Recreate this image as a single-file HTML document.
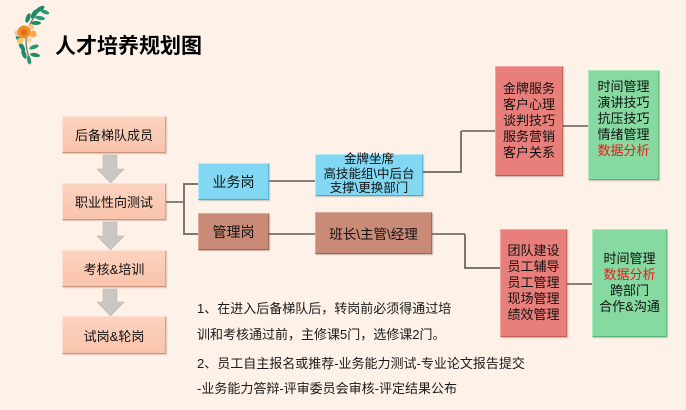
<!DOCTYPE html>
<html><head><meta charset="utf-8">
<style>
html,body{margin:0;padding:0;}
body{width:686px;height:410px;background:#fdf1e8;position:relative;overflow:hidden;font-family:"Liberation Sans","Noto Sans CJK SC",sans-serif;color:#111;}
.b{position:absolute;box-sizing:border-box;display:flex;flex-direction:column;align-items:center;justify-content:center;text-align:center;}
.s{background:linear-gradient(#fcd3c0,#f9c3ab);border:1px solid;border-color:#fde0d2 #d9a38b #c99680 #fde0d2;box-shadow:1px 1px 1px rgba(150,110,90,.35);font-size:13px;}
.bl{background:#82d8f3;border:1px solid;border-color:#b2ebfb #5bb6d4 #4eaac9 #b2ebfb;box-shadow:1px 1px 1px rgba(80,120,140,.35);}
.br{background:#c98b78;border:1px solid;border-color:#dba898 #a46a59 #9a6353 #dba898;box-shadow:1px 1px 1px rgba(100,60,50,.35);}
.rd{background:#e97f7a;border:1px solid;border-color:#f4a5a0 #c86661 #bb5e5a #f4a5a0;box-shadow:1px 1px 1px rgba(120,60,60,.35);font-size:13px;}
.gr{background:#86d9a0;border:1px solid;border-color:#aeeac0 #66bd81 #5db278 #aeeac0;box-shadow:1px 1px 1px rgba(60,110,80,.35);font-size:13px;}
.l{height:16px;line-height:16px;white-space:nowrap;overflow:visible;}
.l2{height:14.5px;line-height:14.5px;white-space:nowrap;overflow:visible;}
.red{color:#f01818;}
.t{position:absolute;font-size:13px;color:#1a1a1a;white-space:nowrap;}
</style></head><body>

<svg width="686" height="410" style="position:absolute;left:0;top:0" xmlns="http://www.w3.org/2000/svg">
  <g>
    <path d="M44 6 Q31 18 27 32 Q24 46 31 63" stroke="#6f7f70" stroke-width="1.3" fill="none"/>
    <ellipse cx="40" cy="9" rx="5" ry="2.2" fill="#1f8a68" transform="rotate(-30 40 9)"/>
    <ellipse cx="45" cy="12" rx="4.5" ry="2" fill="#2a9a74" transform="rotate(20 45 12)"/>
    <ellipse cx="34" cy="14" rx="5" ry="2.2" fill="#1f8a68" transform="rotate(-60 34 14)"/>
    <ellipse cx="40" cy="18" rx="5" ry="2" fill="#2a9a74" transform="rotate(10 40 18)"/>
    <ellipse cx="28" cy="18" rx="5" ry="2.2" fill="#1f8a68" transform="rotate(-70 28 18)"/>
    <ellipse cx="36" cy="23" rx="5" ry="2" fill="#1f8a68" transform="rotate(0 36 23)"/>
    <ellipse cx="19" cy="39" rx="4" ry="2" fill="#2a9a74" transform="rotate(40 19 39)"/>
    <ellipse cx="22" cy="47" rx="5" ry="2.2" fill="#1f8a68" transform="rotate(60 22 47)"/>
    <ellipse cx="34" cy="47" rx="5" ry="2" fill="#2a9a74" transform="rotate(-20 34 47)"/>
    <ellipse cx="24" cy="54" rx="5" ry="2.2" fill="#1f8a68" transform="rotate(70 24 54)"/>
    <ellipse cx="35" cy="55" rx="5" ry="2" fill="#1f8a68" transform="rotate(10 35 55)"/>
    <ellipse cx="29" cy="60" rx="4.5" ry="2" fill="#2a9a74" transform="rotate(80 29 60)"/>
    <circle cx="17" cy="33" r="2.5" fill="#f9b9a0"/>
    <circle cx="31" cy="27" r="3" fill="#f4c48a"/>
    <circle cx="24" cy="32" r="6.5" fill="#f08a2a"/>
    <circle cx="24" cy="32" r="3" fill="#e26a18"/>
    <circle cx="33" cy="34" r="3.5" fill="#f5a94a"/>
    <circle cx="20" cy="41" r="3" fill="#f7c860"/>
    <circle cx="29" cy="40" r="2.5" fill="#fad0a0"/>
  </g>

  <g fill="#cbc6c2" stroke="#bdb7b2" stroke-width="0.6">
    <path d="M103 155 H117 V169 H124 L110.5 183 L97 169 H103 Z"/>
    <path d="M103 222 H117 V236 H124 L110.5 250 L97 236 H103 Z"/>
    <path d="M103 289 H117 V302 H124 L110.5 316 L97 302 H103 Z"/>
  </g>

  <g stroke="#111" stroke-width="1.1" fill="none">
    <line x1="166" y1="202" x2="184" y2="202"/>
    <line x1="184" y1="184" x2="199" y2="184"/>
    <line x1="184" y1="234" x2="199" y2="234"/>
    <line x1="269" y1="181" x2="316" y2="181"/>
    <line x1="269" y1="234" x2="316" y2="234"/>
    <line x1="461" y1="131" x2="496" y2="131"/>
    <line x1="563" y1="126" x2="589" y2="126"/>
    <line x1="432" y1="234" x2="465" y2="234"/>
    <line x1="567" y1="284" x2="593" y2="284"/>
  </g>
  <g stroke="#7a7672" stroke-width="2" fill="none">
    <line x1="184" y1="183" x2="184" y2="235"/>
    <polyline points="423,172 461,172 461,131"/>
    <polyline points="465,234 465,268 501,268"/>
  </g>
</svg>

<div class="t" style="left:55px;top:30px;font-size:21px;font-weight:bold;color:#000;">人才培养规划图</div>

<div class="b s" style="left:62px;top:116px;width:104px;height:37px;">后备梯队成员</div>
<div class="b s" style="left:62px;top:183px;width:104px;height:37px;">职业性向测试</div>
<div class="b s" style="left:62px;top:250px;width:104px;height:37px;">考核&amp;培训</div>
<div class="b s" style="left:62px;top:316px;width:104px;height:38px;">试岗&amp;轮岗</div>

<div class="b bl" style="left:198px;top:163px;width:71px;height:37px;font-size:14px;">业务岗</div>
<div class="b br" style="left:198px;top:213px;width:71px;height:37px;font-size:14px;">管理岗</div>

<div class="b bl" style="left:315px;top:154px;width:108px;height:42px;font-size:12.5px;justify-content:flex-start;">
  <div style="margin-top:-3px;"><div class="l2">金牌坐席</div><div class="l2">高技能组\中后台</div><div class="l2">支撑\更换部门</div></div>
</div>
<div class="b br" style="left:315px;top:212px;width:117px;height:42px;font-size:13.5px;">班长\主管\经理</div>

<div class="b rd" style="left:495px;top:66px;width:68px;height:110px;">
  <div class="l">金牌服务</div><div class="l">客户心理</div><div class="l">谈判技巧</div><div class="l">服务营销</div><div class="l">客户关系</div>
</div>
<div class="b gr" style="left:588px;top:70px;width:71px;height:110px;">
  <div style="margin-bottom:12px;"><div class="l">时间管理</div><div class="l">演讲技巧</div><div class="l">抗压技巧</div><div class="l">情绪管理</div><div class="l red">数据分析</div></div>
</div>

<div class="b rd" style="left:500px;top:229px;width:67px;height:108px;">
  <div class="l">团队建设</div><div class="l">员工辅导</div><div class="l">员工管理</div><div class="l">现场管理</div><div class="l">绩效管理</div>
</div>
<div class="b gr" style="left:592px;top:229px;width:75px;height:108px;">
  <div class="l">时间管理</div><div class="l red">数据分析</div><div class="l">跨部门</div><div class="l">合作&amp;沟通</div>
</div>

<div class="t" style="left:197px;top:298px;">1、在进入后备梯队后，转岗前必须得通过培</div>
<div class="t" style="left:197px;top:324px;">训和考核通过前，主修课5门，选修课2门。</div>
<div class="t" style="left:197px;top:353px;">2、员工自主报名或推荐-业务能力测试-专业论文报告提交</div>
<div class="t" style="left:197px;top:378px;">-业务能力答辩-评审委员会审核-评定结果公布</div>

</body></html>
